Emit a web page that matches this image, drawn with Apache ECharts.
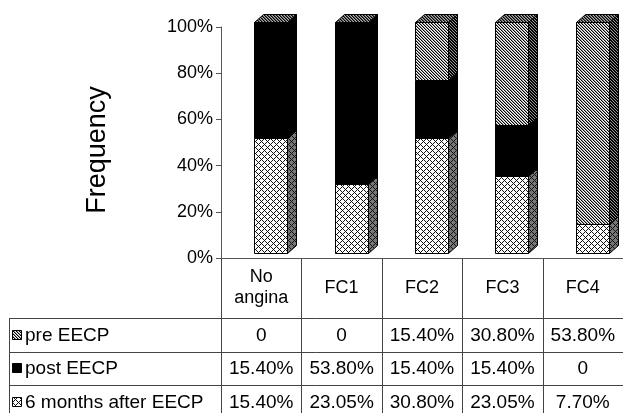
<!DOCTYPE html>
<html>
<head>
<meta charset="utf-8">
<script src="https://cdn.jsdelivr.net/npm/echarts@6/dist/echarts.min.js"></script>
<style>
    html, body {margin: 0; padding: 0; background: #fff;}
    #main {width: 623px; height: 413px;}
</style>
</head>
<body>
<div id="main"></div>
<script>
// data
var categories = ['No\nangina', 'FC1', 'FC2', 'FC3', 'FC4'];
var seriesNames = ['pre EECP', 'post EECP', '6 months after EECP'];
var preEECP = [0, 0, 15.40, 30.80, 53.80];
var postEECP = [15.40, 53.80, 15.40, 15.40, 0];
var sixMonths = [15.40, 23.05, 30.80, 23.05, 7.70];
var yTicks = {min: 0, max: 100, interval: 20};

var FONT = 'Liberation Sans, Arial, sans-serif';

// little pixel tiles for the hatch fills
function tile(n, fn) {
    var c = document.createElement('canvas');
    c.width = n;
    c.height = n;
    var g = c.getContext('2d');
    for (var y = 0; y < n; y++) {
        for (var x = 0; x < n; x++) {
            g.fillStyle = fn(x, y);
            g.fillRect(x, y, 1, 1);
        }
    }
    return {image: c, repeat: 'repeat'};
}
var fills = {
    sixFront: tile(6, function (x, y) {
        return ((x + y) % 6 === 0 || (x - y + 6) % 6 === 0) ? '#111' : '#fff';
    }),
    sixSide: tile(6, function (x, y) {
        return ((x + y) % 6 === 0 || (x - y + 6) % 6 === 0) ? '#111' : '#777';
    }),
    preFront: tile(3, function (x, y) {
        var k = (x - y + 3) % 3;
        return k === 0 ? '#000' : (k === 1 ? '#9a9a9a' : '#fff');
    }),
    preSide: tile(3, function (x, y) {
        var k = (x - y + 3) % 3;
        return k === 2 ? '#999' : '#000';
    }),
    preTop: tile(3, function (x, y) {
        var k = (x - y + 3) % 3;
        return k === 0 ? '#000' : (k === 1 ? '#555' : '#aaa');
    }),
    post: '#000'
};

// stacked 100% : bottom = 6 months, then post, then pre
var stacks = [sixMonths, postEECP, preEECP];
var segs = [[], [], []];
categories.forEach(function (c, i) {
    var total = sixMonths[i] + postEECP[i] + preEECP[i];
    var base = 0;
    stacks.forEach(function (arr, s) {
        var top = base + arr[i] / total * 100;
        segs[s].push([i, base, top]);
        base = top;
    });
});

function renderSeg(faces) {
    return function (params, api) {
        var i = api.value(0);
        var p0 = api.coord([i, api.value(1)]);
        var p1 = api.coord([i, api.value(2)]);
        var w = 33, dx = 9, dy = 8;
        var x0 = Math.round(p0[0] - 7) + 0.5;
        var yb = Math.round(p0[1] - 5) + 0.5;
        var yt = Math.round(p1[1] - 5) + 0.5;
        var line = {stroke: '#000', lineWidth: 1};
        var kids = [];
        if (yb - yt > 0.5) {
            kids.push({type: 'rect', shape: {x: x0, y: yt, width: w, height: yb - yt},
                style: Object.assign({fill: faces.front}, line)});
            kids.push({type: 'polygon', shape: {points: [[x0 + w, yb], [x0 + w + dx, yb - dy], [x0 + w + dx, yt - dy], [x0 + w, yt]]},
                style: Object.assign({fill: faces.side}, line)});
        }
        if (faces.top) {
            kids.push({type: 'polygon', shape: {points: [[x0, yt], [x0 + dx, yt - dy], [x0 + w + dx, yt - dy], [x0 + w, yt]]},
                style: Object.assign({fill: faces.top}, line)});
        }
        return {type: 'group', children: kids};
    };
}

var chart = echarts.init(document.getElementById('main'));
chart.setOption({
    animation: false,
    grid: {left: 221, right: -2, top: 27, bottom: 155},
    xAxis: {
        type: 'category',
        data: categories,
        axisLine: {lineStyle: {color: '#555', width: 1}},
        axisTick: {show: false},
        axisLabel: {
            color: '#000', fontSize: 18, fontFamily: FONT, lineHeight: 21,
            verticalAlign: 'middle', margin: 30, interval: 0
        }
    },
    yAxis: {
        type: 'value',
        min: yTicks.min, max: yTicks.max, interval: yTicks.interval,
        axisLine: {show: true, lineStyle: {color: '#555', width: 1}},
        axisTick: {show: true, length: 5, lineStyle: {color: '#555'}},
        splitLine: {show: false},
        axisLabel: {color: '#000', fontSize: 18, fontFamily: FONT, margin: 8, formatter: '{value}%'}
    },
    series: [
        {type: 'custom', name: seriesNames[2], data: segs[0], encode: {x: 0, y: [1, 2]},
            renderItem: renderSeg({front: fills.sixFront, side: fills.sixSide})},
        {type: 'custom', name: seriesNames[1], data: segs[1], encode: {x: 0, y: [1, 2]},
            renderItem: renderSeg({front: fills.post, side: fills.post})},
        {type: 'custom', name: seriesNames[0], data: segs[2], encode: {x: 0, y: [1, 2]},
            renderItem: renderSeg({front: fills.preFront, side: fills.preSide, top: fills.preTop})}
    ]
});

// data table under the plot
function fmt(v) {
    return v === 0 ? '0' : v.toFixed(2) + '%';
}
var centers = categories.map(function (c, i) {
    return chart.convertToPixel({xAxisIndex: 0}, i);
});
var half = (centers[1] - centers[0]) / 2;
var axisY = chart.convertToPixel({yAxisIndex: 0}, 0);
var rowTops = [axisY + 60, axisY + 93.5, axisY + 127];
var rowH = 33.5;
var bottomY = rowTops[2] + rowH;
var rightX = centers[4] + half;
var lineCol = '#444';
var g = [];

// "Frequency"
g.push({type: 'text', x: 98, y: 150, rotation: Math.PI / 2,
    style: {text: 'Frequency', font: '27px ' + FONT, fill: '#000', align: 'center', verticalAlign: 'middle'}});

// vertical lines
centers.forEach(function (c, i) {
    var x = Math.round(c - half) + 0.5;
    g.push({type: 'line', shape: {x1: x, y1: axisY, x2: x, y2: bottomY}, style: {stroke: lineCol, lineWidth: 1}});
});
g.push({type: 'line', shape: {x1: 9.5, y1: rowTops[0], x2: 9.5, y2: bottomY}, style: {stroke: lineCol, lineWidth: 1}});
// horizontal lines
rowTops.forEach(function (y) {
    var yy = Math.round(y) + 0.5;
    g.push({type: 'line', shape: {x1: 9.5, y1: yy, x2: rightX, y2: yy}, style: {stroke: lineCol, lineWidth: 1}});
});

var rows = [preEECP, postEECP, sixMonths];
var keys = [fills.preFront, fills.post, fills.sixFront];
rows.forEach(function (arr, r) {
    var cy = rowTops[r] + rowH / 2;
    g.push({type: 'rect', shape: {x: 12.5, y: Math.round(cy - 5) + 0.5, width: 9, height: 9},
        style: {fill: keys[r], stroke: '#000', lineWidth: 1}});
    g.push({type: 'text', x: 25, y: cy + 1,
        style: {text: seriesNames[r], font: '19px ' + FONT, fill: '#000', align: 'left', verticalAlign: 'middle'}});
    arr.forEach(function (v, i) {
        g.push({type: 'text', x: centers[i], y: cy + 1,
            style: {text: fmt(v), font: '19px ' + FONT, fill: '#000', align: 'center', verticalAlign: 'middle'}});
    });
});
chart.setOption({graphic: g});
</script>
</body>
</html>
